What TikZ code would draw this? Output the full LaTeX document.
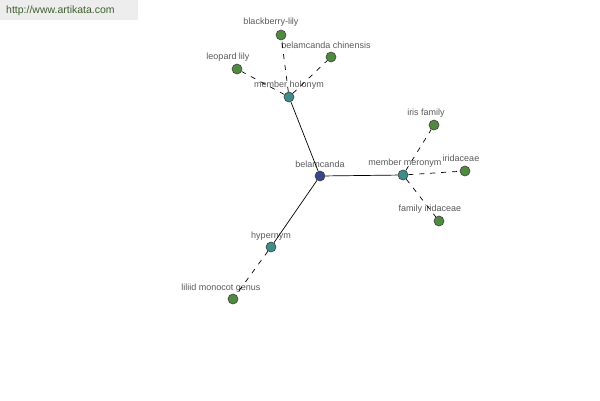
\documentclass[tikz,border=0pt]{standalone}
\usepackage{fontspec}
\setmainfont{Liberation Sans}
\usetikzlibrary{positioning}
\definecolor{leafgreen}{HTML}{4F8A3F}
\definecolor{hubteal}{HTML}{3F8C8C}
\definecolor{rootblue}{HTML}{3A4488}
\definecolor{sitegreen}{HTML}{3F5F2F}

\begin{document}
\begin{tikzpicture}[x=1pt,y=-1pt,every node/.style={font=\fontsize{9}{10}\selectfont},
  dot/.style={circle,draw=black!75,line width=0.6pt,inner sep=0pt,minimum size=10pt},
  tag/.style={text=black!65,inner sep=0pt},
  link/.style={line width=0.7pt},
  weak/.style={line width=0.7pt,dash pattern=on 5pt off 6pt}]
  \useasboundingbox (0,0) rectangle (600,400);
  \fill[black!7] (0,0) rectangle (138,20);
  \node[anchor=west,text=sitegreen,inner sep=0pt,font=\fontsize{10.5}{12}\selectfont] (site) at (6,11) {http://www.artikata.com};
  % hubs
  \foreach \n/\x/\y/\lx/\ly/\t/\c in {root/320/176/320/164/belamcanda/rootblue,
      holo/289/97/289/85/member holonym/hubteal,
      mero/403/175/405/163/member meronym/hubteal,
      hyper/271/247/271/236/hypernym/hubteal}{
    \node[tag] (\n-tag) at (\lx,\ly) {\t};
    \node[dot,fill=\c] (\n) at (\x,\y) {};
  }
  % leaves
  \foreach \n/\x/\y/\lx/\ly/\t in {blackberry/281/35/271/22/blackberry-lily,
      chinensis/331/57/326/45/belamcanda chinensis,
      leopard/237/69/228/57/leopard lily,
      iris/434/125/426/113/iris family,
      iridaceae/465/171/461/158/iridaceae,
      famirid/439/221/430/209/family iridaceae,
      liliid/233/299/221/288/liliid monocot genus}{
    \node[tag] (\n-tag) at (\lx,\ly) {\t};
    \node[dot,fill=leafgreen] (\n) at (\x,\y) {};
  }
  \foreach \a/\b in {root/holo,root/mero,root/hyper}{\draw[link] (\a) -- (\b);}
  \foreach \a/\b in {holo/blackberry,holo/chinensis,holo/leopard,mero/iris,mero/iridaceae,mero/famirid,hyper/liliid}{\draw[weak] (\a) -- (\b);}
\end{tikzpicture}
\end{document}
